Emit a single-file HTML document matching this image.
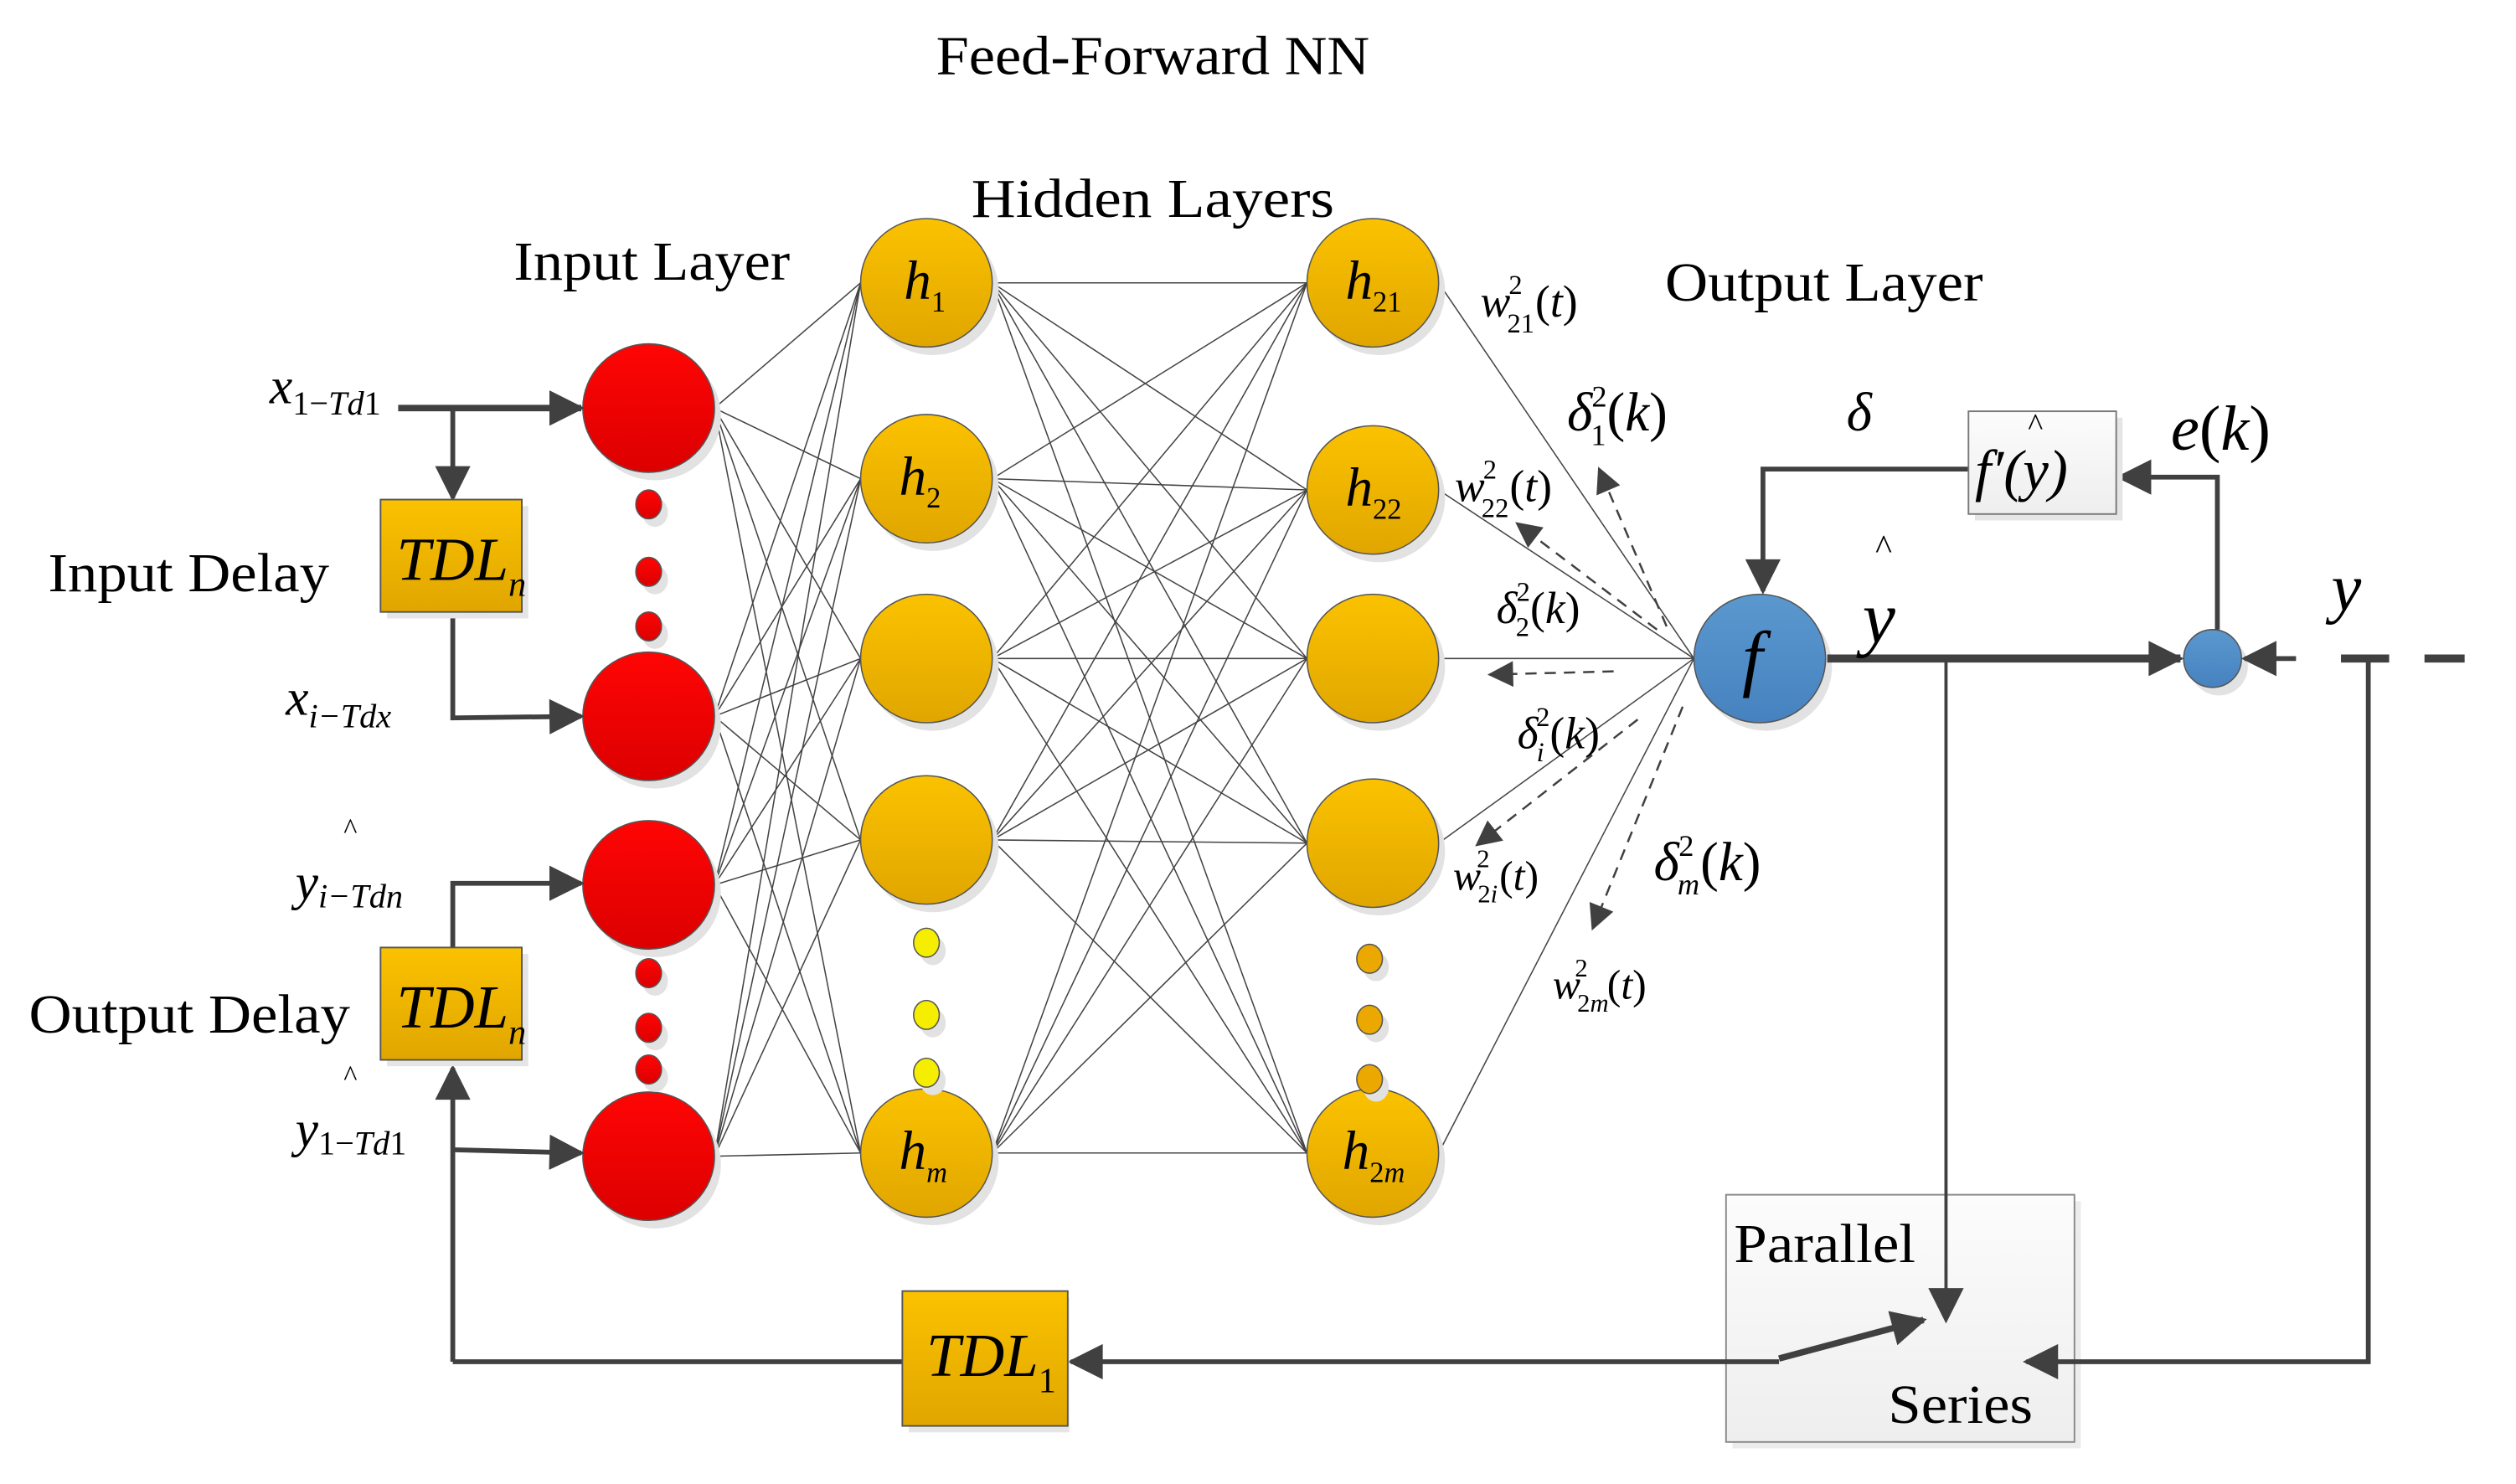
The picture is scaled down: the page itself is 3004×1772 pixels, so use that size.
<!DOCTYPE html>
<html><head><meta charset="utf-8"><style>
html,body{margin:0;padding:0;background:#fff;}
svg{display:block;}
text{font-family:"Liberation Serif",serif;fill:#000;}
.it{font-style:italic;}
</style></head><body>
<svg id="s" width="3004" height="1772" viewBox="0 0 1567 924" xmlns="http://www.w3.org/2000/svg">
<defs>
<linearGradient id="red" x1="0" y1="0" x2="0" y2="1"><stop offset="0" stop-color="#ff0505"/><stop offset="1" stop-color="#dc0000"/></linearGradient>
<linearGradient id="gold" x1="0" y1="0" x2="0" y2="1"><stop offset="0" stop-color="#fbc200"/><stop offset="1" stop-color="#e0a600"/></linearGradient>
<linearGradient id="blue" x1="0" y1="0" x2="0" y2="1"><stop offset="0" stop-color="#5b98cf"/><stop offset="1" stop-color="#4682bf"/></linearGradient>
<linearGradient id="gray" x1="0" y1="0" x2="0" y2="1"><stop offset="0" stop-color="#fcfcfc"/><stop offset="1" stop-color="#eeeeee"/></linearGradient>
<marker id="ah" viewBox="0 0 10 10" refX="9" refY="5" markerWidth="28" markerHeight="22" orient="auto" markerUnits="userSpaceOnUse"><path d="M0,0 L10,5 L0,10 z" fill="#404040"/></marker>
<marker id="ahd" viewBox="0 0 10 10" refX="9" refY="5" markerWidth="24" markerHeight="16" orient="auto" markerUnits="userSpaceOnUse"><path d="M0,0 L10,5 L0,10 z" fill="#404040"/></marker>
</defs>
<rect x="1079" y="748" width="217" height="154" fill="#ececec"/>
<rect x="1075" y="744" width="217" height="154" fill="url(#gray)" stroke="#888" stroke-width="1"/>
<g id="conn" stroke="#444" stroke-width="0.8" fill="none"></g>
<g id="nodes"></g>
<g stroke="#404040" fill="none" stroke-width="3">
<line x1="248" y1="254" x2="362" y2="254" stroke-width="4" marker-end="url(#ah)"/>
<line x1="282" y1="254" x2="282" y2="310" marker-end="url(#ah)"/>
<polyline points="282,381 282,447 362,446" marker-end="url(#ah)"/>
<polyline points="282,590 282,550 362,550" marker-end="url(#ah)"/>
<polyline points="282,848 282,665" marker-end="url(#ah)"/>
<line x1="282" y1="716" x2="362" y2="718" marker-end="url(#ah)"/>
<line x1="282" y1="848" x2="562" y2="848"/>
<line x1="1108" y1="848" x2="667" y2="848" marker-end="url(#ah)"/>
<line x1="1108" y1="846" x2="1198" y2="822" stroke-width="4" marker-end="url(#ah)"/>
<line x1="1212" y1="410" x2="1212" y2="822" stroke-width="2" marker-end="url(#ah)"/>
<polyline points="1475,410 1475,848 1262,848" marker-end="url(#ah)"/>
<line x1="1138" y1="410" x2="1358" y2="410" stroke-width="5" marker-end="url(#ah)"/>
<line x1="1430" y1="410" x2="1398" y2="410" marker-end="url(#ah)"/>
<line x1="1458" y1="410" x2="1488" y2="410" stroke-width="5"/>
<line x1="1510" y1="410" x2="1535" y2="410" stroke-width="5"/>
<polyline points="1381,392 1381,297 1320,297" marker-end="url(#ah)"/>
<polyline points="1226,292 1098,292 1098,368" marker-end="url(#ah)"/>
</g>
<g stroke="#404040" stroke-width="1.3" stroke-dasharray="7,5" fill="none">
<line x1="1038" y1="390" x2="996" y2="292" marker-end="url(#ahd)"/>
<line x1="1032" y1="392" x2="945" y2="326" marker-end="url(#ahd)"/>
<line x1="1005" y1="418" x2="928" y2="420" marker-end="url(#ahd)"/>
<line x1="1020" y1="448" x2="920" y2="526" marker-end="url(#ahd)"/>
<line x1="1048" y1="440" x2="992" y2="578" marker-end="url(#ahd)"/>
</g>
<rect x="241" y="315" width="88" height="70" fill="#e5e5e5"/>
<rect x="237" y="311" width="88" height="70" fill="url(#gold)" stroke="#555" stroke-width="1"/>
<rect x="241" y="594" width="88" height="70" fill="#e5e5e5"/>
<rect x="237" y="590" width="88" height="70" fill="url(#gold)" stroke="#555" stroke-width="1"/>
<rect x="566" y="808" width="100" height="84" fill="#e5e5e5"/>
<rect x="562" y="804" width="103" height="84" fill="url(#gold)" stroke="#555" stroke-width="1"/>
<rect x="1230" y="260" width="92" height="64" fill="#e5e5e5"/>
<rect x="1226" y="256" width="92" height="64" fill="url(#gray)" stroke="#777" stroke-width="1"/>
<text x="583" y="46" font-size="34" textLength="270" lengthAdjust="spacingAndGlyphs">Feed-Forward NN</text>
<text x="605" y="135" font-size="34" textLength="226" lengthAdjust="spacingAndGlyphs">Hidden  Layers</text>
<text x="320" y="174" font-size="34" textLength="172" lengthAdjust="spacingAndGlyphs">Input Layer</text>
<text x="1037" y="187" font-size="34" textLength="198" lengthAdjust="spacingAndGlyphs">Output Layer</text>
<text x="30" y="368" font-size="34" textLength="175" lengthAdjust="spacingAndGlyphs">Input Delay</text>
<text x="18" y="643" font-size="34" textLength="200" lengthAdjust="spacingAndGlyphs">Output Delay</text>
<text x="1080" y="786" font-size="34" textLength="113" lengthAdjust="spacingAndGlyphs">Parallel</text>
<text x="1176" y="886" font-size="34" textLength="90" lengthAdjust="spacingAndGlyphs">Series</text>
<g class="it">
<text x="247" y="361" font-size="38">TDL<tspan font-size="22" dy="10">n</tspan></text>
<text x="247" y="640" font-size="38">TDL<tspan font-size="22" dy="10">n</tspan></text>
<text x="577" y="857" font-size="38">TDL<tspan font-size="22" dy="10" font-style="normal">1</tspan></text>
<text x="1230" y="305" font-size="36">f′(y)</text>
<text x="1263" y="271" font-size="20" font-style="normal">^</text>
<text x="168" y="251" font-size="32">x<tspan font-size="21" dy="7" font-style="normal">1−</tspan><tspan font-size="21">Td</tspan><tspan font-size="21" font-style="normal">1</tspan></text>
<text x="178" y="445" font-size="32">x<tspan font-size="21" dy="8">i−Tdx</tspan></text>
<text x="214" y="522" font-size="18" font-style="normal">^</text>
<text x="184" y="560" font-size="32">y<tspan font-size="21" dy="5">i−Tdn</tspan></text>
<text x="214" y="676" font-size="18" font-style="normal">^</text>
<text x="184" y="714" font-size="32">y<tspan font-size="21" dy="5" font-style="normal">1−</tspan><tspan font-size="21">Td</tspan><tspan font-size="21" font-style="normal">1</tspan></text>
<text x="563" y="186" font-size="34">h<tspan font-size="18" dy="8" font-style="normal">1</tspan></text>
<text x="560" y="308" font-size="34">h<tspan font-size="18" dy="8" font-style="normal">2</tspan></text>
<text x="560" y="728" font-size="34">h<tspan font-size="18" dy="8">m</tspan></text>
<text x="838" y="186" font-size="34">h<tspan font-size="18" dy="8" font-style="normal">21</tspan></text>
<text x="838" y="315" font-size="34">h<tspan font-size="18" dy="8" font-style="normal">22</tspan></text>
<text x="836" y="728" font-size="34">h<tspan font-size="18" dy="8" font-style="normal">2</tspan><tspan font-size="18">m</tspan></text>
<text x="1085" y="425" font-size="46">f</text>
<text x="1168" y="348" font-size="22" font-style="normal">^</text>
<text x="1160" y="400" font-size="46">y</text>
<text x="1452" y="380" font-size="42">y</text>
<text x="1150" y="268" font-size="34">δ</text>
<text x="1352" y="280" font-size="40">e<tspan font-style="normal">(</tspan>k<tspan font-style="normal">)</tspan></text>
<text x="922" y="197" font-size="28">w<tspan font-size="17" dy="10" dx="-2" font-style="normal">21</tspan><tspan font-size="17" dy="-24" dx="-16" font-style="normal">2</tspan><tspan dy="14" dx="8" font-style="normal">(</tspan>t<tspan font-style="normal">)</tspan></text>
<text x="976" y="268" font-size="34">δ<tspan font-size="19" dy="9" dx="-1" font-style="normal">1</tspan><tspan font-size="19" dy="-24" dx="-9" font-style="normal">2</tspan><tspan dy="15" font-style="normal">(</tspan>k<tspan font-style="normal">)</tspan></text>
<text x="906" y="312" font-size="28">w<tspan font-size="17" dy="10" dx="-2" font-style="normal">22</tspan><tspan font-size="17" dy="-24" dx="-16" font-style="normal">2</tspan><tspan dy="14" dx="8" font-style="normal">(</tspan>t<tspan font-style="normal">)</tspan></text>
<text x="932" y="388" font-size="28">δ<tspan font-size="17" dy="8" dx="-1" font-style="normal">2</tspan><tspan font-size="17" dy="-22" dx="-8" font-style="normal">2</tspan><tspan dy="14" font-style="normal">(</tspan>k<tspan font-style="normal">)</tspan></text>
<text x="945" y="466" font-size="28">δ<tspan font-size="17" dy="8" dx="-1">i</tspan><tspan font-size="17" dy="-22" dx="-5" font-style="normal">2</tspan><tspan dy="14" font-style="normal">(</tspan>k<tspan font-style="normal">)</tspan></text>
<text x="905" y="554" font-size="26">w<tspan font-size="16" dy="8" dx="-2" font-style="normal">2</tspan><tspan font-size="16">i</tspan><tspan font-size="16" dy="-22" dx="-13" font-style="normal">2</tspan><tspan dy="14" dx="6" font-style="normal">(</tspan>t<tspan font-style="normal">)</tspan></text>
<text x="1030" y="548" font-size="34">δ<tspan font-size="19" dy="9" dx="-1">m</tspan><tspan font-size="19" dy="-24" dx="-13" font-style="normal">2</tspan><tspan dy="15" dx="4" font-style="normal">(</tspan>k<tspan font-style="normal">)</tspan></text>
<text x="967" y="622" font-size="26">w<tspan font-size="16" dy="8" dx="-2" font-style="normal">2</tspan><tspan font-size="16">m</tspan><tspan font-size="16" dy="-22" dx="-21" font-style="normal">2</tspan><tspan dy="14" dx="12" font-style="normal">(</tspan>t<tspan font-style="normal">)</tspan></text>
</g>
<script>
(function(){
var NS="http://www.w3.org/2000/svg";
var conn=document.getElementById('conn'),nodes=document.getElementById('nodes');
var L0=[254,446,551,720],L1=[176,298,410,523,718],L2=[176,305,410,525,718];
function ln(a,b,c,d){var l=document.createElementNS(NS,'line');l.setAttribute('x1',a);l.setAttribute('y1',b);l.setAttribute('x2',c);l.setAttribute('y2',d);conn.appendChild(l);}
L0.forEach(function(a){L1.forEach(function(b){ln(445,a,536,b);});});
L1.forEach(function(a){L2.forEach(function(b){ln(618,a,814,b);});});
L2.forEach(function(a){ln(896,a,1055,410);});
function el(cx,cy,rx,ry,f){var s=document.createElementNS(NS,'ellipse');s.setAttribute('cx',cx+4);s.setAttribute('cy',cy+5);s.setAttribute('rx',rx);s.setAttribute('ry',ry);s.setAttribute('fill','#e2e2e2');nodes.appendChild(s);
var e=document.createElementNS(NS,'ellipse');e.setAttribute('cx',cx);e.setAttribute('cy',cy);e.setAttribute('rx',rx);e.setAttribute('ry',ry);e.setAttribute('fill',f);e.setAttribute('stroke','#555');e.setAttribute('stroke-width','0.8');nodes.appendChild(e);}
L0.forEach(function(y){el(404,y,41,40,'url(#red)');});
[314,356,390,606,640,666].forEach(function(y){el(404,y,8,9,'url(#red)');});
L1.forEach(function(y){el(577,y,41,40,'url(#gold)');});
[587,632,668].forEach(function(y){el(577,y,8,9,'#f5ee00');});
L2.forEach(function(y){el(855,y,41,40,'url(#gold)');});
[597,635,672].forEach(function(y){el(853,y,8,9,'#eaa800');});
el(1096,410,41,40,'url(#blue)');
el(1378,410,18,18,'url(#blue)');
})();
</script>
</svg>
</body></html>
